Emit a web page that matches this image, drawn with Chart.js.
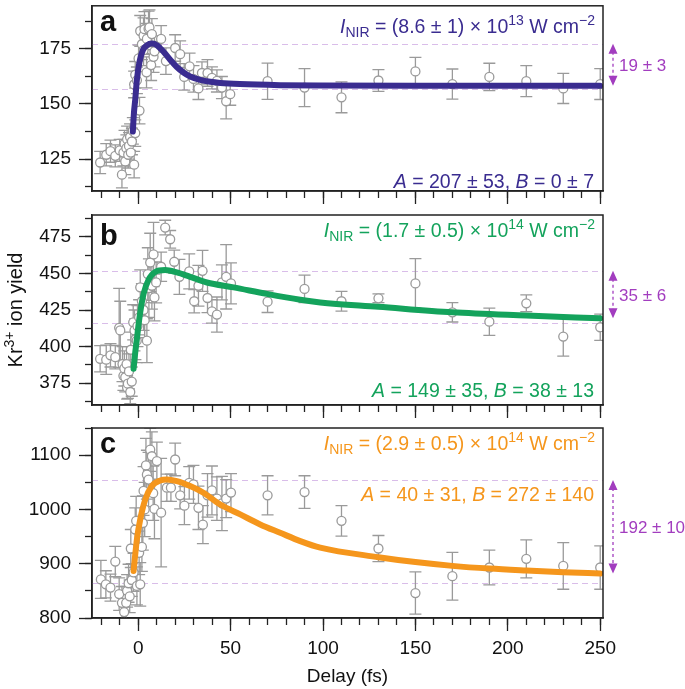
<!DOCTYPE html>
<html>
<head>
<meta charset="utf-8">
<script src="https://cdn.jsdelivr.net/npm/chart.js@4.4.1/dist/chart.umd.min.js"></script>
<style>
  html, body { margin: 0; padding: 0; background: #fff; }
  #wrap { position: relative; width: 685px; height: 689px; overflow: hidden; }
  #wrap canvas { position: absolute; left: 0; }
</style>
</head>
<body>
<div id="wrap">
  <canvas id="pa" width="685" height="210" style="top:0px"></canvas>
  <canvas id="pb" width="685" height="217" style="top:203px"></canvas>
  <canvas id="pc" width="685" height="269" style="top:420px"></canvas>
</div>
<script>
const FAMILY = '"Liberation Sans", Arial, Helvetica, sans-serif';
const GRAY = "#9a9a9a";
const PURPLE = "#a23dbf";
const X_MIN = -25, X_MAX = 251.5;

// panel a
const aDelay = [-20.6,-17.3,-15,-12.4,-10,-8.8,-8,-7.4,-7,-6.4,-6,-5.4,-5,-4.4,-4,-3.4,-2.9,-2.2,-1.6,-2.2,-1.6,-0.7,0.7,0.2,1.1,2,2.9,3.4,2.9,4.7,4.5,5.6,6.1,7.4,7,8.3,8.8,12.4,15,20,22.7,24.9,27.8,29.9,32.6,34.5,37.5,39.9,42.6,45.3,47.6,49.8,70,90,110,130,150,170,190,210,230,250];
const aYield = [123.5,127,128.6,126.5,129,118,128,132,124,130,134,127,131,135,128,133,137.8,122.5,136.8,158.8,163.2,160.7,147,170.6,183,177,180.9,183.8,174.3,179.4,164.3,184,184.6,181.6,167.6,171.3,173.8,179.4,169.4,175.3,172.5,162.2,167,161.3,157,164,164,161.8,160.4,157.4,151.2,154.4,160.3,157.4,153,160.6,164.7,159,162.2,160.3,157,159];
const aErr = [5,5,5,5,5,6,6,6,6,6,6,6,6,6,6,6,6,6,6,6,6,6,6,6,7,7,8,8,7,7,7,8,8,7,7,7,7,6,6,6,6,6,6,6,5,5,6,5,5,5,8,5,8.2,8.6,7,4.9,6.4,6.8,6.2,7,6.8,7];
const aFitDelay = [-2.9,-2.3,-1.6,-0.7,0.7,2.5,4.7,7.4,10.1,13.7,17.3,20.9,24.5,28.1,33.5,39,44.4,55,76.8,98.5,150,200,250];
const aFitYield = [137.5,146,152,161,169,174.3,176.5,177.3,176.6,173.6,170,166.7,164.2,162.4,160.9,160,159.5,159,158.5,158.3,158.2,158.2,158.2];
const aLevels = [177.2, 156.8];
const aArrow = [177.2, 158.2];

// panel b
const bDelay = [-20.6,-17.3,-15,-12.4,-10.3,-9.7,-8.5,-8,-7.5,-7,-6.3,-6,-5.6,-5,-4.3,-4,-3.5,-2.7,-2,-1.5,-0.8,-0.4,0.5,1.1,2,2.9,3.5,4.7,5.2,5.8,6.5,7.4,8.3,8.8,9.7,12.4,14.6,17.3,19.5,22.3,27.6,30.3,32.6,34.8,37.5,39.9,42.6,45.3,47.6,50.2,70,90,110,130,150,170,190,210,230,250];
const bYield = [391.6,391,394,392.7,412.8,411,388,380,385,379,388,372,374.6,383,368.9,397.8,376,416.6,411,405,404,414,420,440.5,431,425,418,404,449.6,440,457.5,441.6,463,433.6,443.9,454.6,481.4,473.4,458,447.7,451.4,431,441.6,451.8,433.2,424,421.9,443.9,447.7,443.2,430.7,439.4,431,433,443.2,423.4,417,429.6,406.8,413.2];
const bErr = [9,10,8,8,27,20,12,10,12,10,12,8,10,12,8,12,10,12,14,14,15,14,12,12,12,14,12,15,18,20,20,16,22,16,14,10,5,6,8,12,12,8,14,14,10,8,12,12,22,14,7.4,9.4,6.8,3,17,6.6,9.3,5.7,13.4,9];
const bFitDelay = [-2.5,-1.6,-0.7,0.2,1.1,2.9,5.6,9.2,14.6,20.9,28.1,37.2,51.6,69.6,87.7,98.5,130,170,210,250];
const bFitYield = [384.8,396,405.3,415,423.4,436,445.7,451,452.3,450.7,447.7,443.8,440.5,436,432,430.2,427.2,423.4,421.2,419.3];
const bLevels = [451.9, 416.3];
const bArrow = [451.9, 419.3];

// panel c
const cDelay = [-20.2,-17.5,-15,-12.4,-10.3,-8.8,-7.6,-6.5,-6,-5.2,-4.6,-4,-3.5,-2.5,-1.6,-1.1,-0.7,0.5,1.1,2,2.5,2.9,3.5,4.2,4.7,5.6,6.5,7.4,8.1,8.8,10.1,12.4,15.5,17.7,20,22.7,25,27.6,29.9,32.6,35,37.5,39.9,42.6,45.3,47.6,50.2,70,90,110,130,150,170,190,210,230,250];
const cYield = [871,862,856,904,844,828,811,828,850,864,840,928,870,884,963,979,859,920,862,931,975,1034,1000,1081,1064,1055,1110,1098,1030,1001,1089,994,1040,1040,1092,1026,1007,1049,1046,1003,972,1026,1035,1020,1011,1020,1031,1026,1032,979,928,846,877,893,909,896,893];
const cErr = [35,25,25,28,30,30,25,30,30,35,30,35,30,35,40,45,35,40,40,45,50,45,50,50,45,50,40,45,50,55,35,100,25,25,30,25,35,30,35,40,35,40,45,40,50,35,35,36,30,28,24,39,44,32,35,43,40];
const cFitDelay = [-2.5,-0.7,1.1,3.8,7.4,11.9,15.5,20.9,28.1,35.3,44.4,55.2,66,76.8,87.7,98.5,130,150,170,190,210,230,250];
const cFitYield = [886.6,944.9,981.6,1018,1043,1053.3,1055,1052,1043,1030.7,1009,990.8,972.4,957,941.7,929.6,912,903,896,891,887.5,884.5,882];
const cLevels = [1054, 865];
const cArrow = [1054, 882];

// draws text made of normal / italic / sub / sup pieces, right aligned
function richText(ctx, parts, xRight, yBase, size, small) {
  const fontFor = (k) => (k === "i" ? "italic " : "") + (k === "sub" || k === "sup" ? small : size) + "px " + FAMILY;
  let w = 0;
  parts.forEach(([t, k]) => { ctx.font = fontFor(k); w += ctx.measureText(t).width; });
  let x = xRight - w;
  ctx.textAlign = "left";
  ctx.textBaseline = "alphabetic";
  parts.forEach(([t, k]) => {
    ctx.font = fontFor(k);
    const dy = k === "sub" ? 4 : k === "sup" ? -8 : 0;
    ctx.fillText(t, x, yBase + dy);
    x += ctx.measureText(t).width;
  });
  return w;
}

function makePanel(id, o) {
  const decor = {
    id: "decor",
    beforeDatasetsDraw(chart) {
      const { ctx, chartArea: ca, scales: { x, y } } = chart;
      ctx.save();
      ctx.beginPath();
      ctx.rect(ca.left, ca.top, ca.right - ca.left, ca.bottom - ca.top);
      ctx.clip();
      // dashed guide levels
      ctx.strokeStyle = "#d9bde9";
      ctx.lineWidth = 1.2;
      ctx.setLineDash([6, 4]);
      o.levels.forEach((v) => {
        const py = Math.round(y.getPixelForValue(v)) + 0.5;
        ctx.beginPath();
        ctx.moveTo(ca.left, py);
        ctx.lineTo(ca.right, py);
        ctx.stroke();
      });
      ctx.setLineDash([]);
      // error bars
      ctx.strokeStyle = GRAY;
      ctx.lineWidth = 1.3;
      o.x.forEach((d, i) => {
        const px = x.getPixelForValue(d);
        const y1 = y.getPixelForValue(o.y[i] + o.err[i]);
        const y2 = y.getPixelForValue(o.y[i] - o.err[i]);
        ctx.beginPath();
        ctx.moveTo(px, y1); ctx.lineTo(px, y2);
        ctx.moveTo(px - 6, y1); ctx.lineTo(px + 6, y1);
        ctx.moveTo(px - 6, y2); ctx.lineTo(px + 6, y2);
        ctx.stroke();
      });
      ctx.restore();
    },
    afterDraw(chart) {
      const { ctx, chartArea: ca, scales: { y } } = chart;
      ctx.save();
      // frame
      ctx.strokeStyle = "#222";
      ctx.lineWidth = 1.5;
      ctx.strokeRect(ca.left, ca.top, ca.right - ca.left, ca.bottom - ca.top);
      // panel letter
      ctx.fillStyle = "#111";
      ctx.font = "bold 29px " + FAMILY;
      ctx.textAlign = "left";
      ctx.textBaseline = "alphabetic";
      ctx.fillText(o.letter, ca.left + 8, ca.top + o.letterY);
      // annotations
      ctx.fillStyle = o.color;
      richText(ctx, [["I", "i"], ["NIR", "sub"], [" = (" + o.intensity + ") \u00d7 10", ""], [o.power, "sup"], [" W cm", ""], ["\u22122", "sup"]],
        ca.right - 8, ca.top + o.intensityY, 19.5, 14);
      richText(ctx, [["A", "i"], [" = " + o.A + ", ", ""], ["B", "i"], [" = " + o.B, ""]],
        ca.right - 9, ca.top + o.paramsY, 19.5, 14);
      // amplitude arrow
      const ax = ca.right + 10;
      const yt = y.getPixelForValue(o.arrow[0]);
      const yb = y.getPixelForValue(o.arrow[1]);
      ctx.strokeStyle = PURPLE;
      ctx.fillStyle = PURPLE;
      ctx.lineWidth = 1.3;
      ctx.setLineDash([3, 3]);
      ctx.beginPath();
      ctx.moveTo(ax, yt + 8); ctx.lineTo(ax, yb - 8);
      ctx.stroke();
      ctx.setLineDash([]);
      ctx.beginPath();
      ctx.moveTo(ax, yt); ctx.lineTo(ax - 4.5, yt + 10); ctx.lineTo(ax + 4.5, yt + 10); ctx.closePath();
      ctx.moveTo(ax, yb); ctx.lineTo(ax - 4.5, yb - 10); ctx.lineTo(ax + 4.5, yb - 10); ctx.closePath();
      ctx.fill();
      ctx.font = "17px " + FAMILY;
      ctx.textBaseline = "middle";
      ctx.textAlign = "left";
      ctx.fillText(o.delta, ax + 6, (yt + yb) / 2 + 2);
      // shared y title, drawn once in the middle panel
      if (o.yTitle) {
        ctx.translate(22, (ca.top + ca.bottom) / 2);
        ctx.rotate(-Math.PI / 2);
        ctx.fillStyle = "#111";
        const parts = [["Kr", 20], ["3+", 14], [" ion yield", 20]];
        let w = 0;
        parts.forEach(([t, s]) => { ctx.font = s + "px " + FAMILY; w += ctx.measureText(t).width; });
        let tx = -w / 2;
        ctx.textBaseline = "alphabetic";
        parts.forEach(([t, s]) => {
          ctx.font = s + "px " + FAMILY;
          ctx.fillText(t, tx, s === 14 ? -8 : 0);
          tx += ctx.measureText(t).width;
        });
      }
      ctx.restore();
    }
  };

  const zeroPad = (s) => { s.paddingLeft = 0; s.paddingRight = 0; s.paddingTop = 0; s.paddingBottom = 0; };
  const tickFont = { family: FAMILY, size: 19 };
  const plain = (v) => String(v);

  return new Chart(document.getElementById(id), {
    type: "scatter",
    data: {
      datasets: [
        {
          type: "line",
          data: o.fitX.map((d, i) => ({ x: d, y: o.fitY[i] })),
          borderColor: o.color,
          borderWidth: 6,
          borderCapStyle: "round",
          pointRadius: 0,
          showLine: true,
          fill: false,
          cubicInterpolationMode: "monotone",
          order: 0
        },
        {
          data: o.x.map((d, i) => ({ x: d, y: o.y[i] })),
          pointRadius: 4.5,
          pointBackgroundColor: "#fff",
          pointBorderColor: GRAY,
          pointBorderWidth: 1.3,
          order: 1
        }
      ]
    },
    options: {
      responsive: false,
      animation: false,
      events: [],
      layout: { padding: { top: o.padTop, right: 82, left: 0, bottom: 0 } },
      plugins: { legend: { display: false }, tooltip: { enabled: false } },
      scales: {
        x: {
          type: "linear", position: "bottom", weight: 1, min: X_MIN, max: X_MAX,
          ticks: { stepSize: 50, includeBounds: false, display: o.xLabels, font: tickFont, color: "#111", padding: 6, maxRotation: 0, callback: plain },
          grid: { drawOnChartArea: false, tickLength: 13, tickColor: "#222", tickWidth: 1.3 },
          border: { color: "#222", width: 1.5 },
          title: { display: o.xLabels, text: "Delay (fs)", font: { family: FAMILY, size: 19 }, color: "#111", padding: { top: 0, bottom: 1 } },
          afterFit: (s) => { s.height = o.xHeight; zeroPad(s); }
        },
        xm: {
          type: "linear", position: "bottom", weight: 0, min: X_MIN, max: X_MAX,
          ticks: { stepSize: 10, includeBounds: false, display: false },
          grid: { drawOnChartArea: false, tickLength: 7, tickColor: "#222", tickWidth: 1.3 },
          border: { display: false },
          afterFit: (s) => { s.height = 0; zeroPad(s); }
        },
        y: {
          type: "linear", position: "left", weight: 1, min: o.yMin, max: o.yMax,
          ticks: { stepSize: o.yStep, includeBounds: false, font: tickFont, color: "#111", padding: 8, callback: plain },
          grid: { drawOnChartArea: false, tickLength: 13, tickColor: "#222", tickWidth: 1.3 },
          border: { color: "#222", width: 1.5 },
          afterFit: (s) => { s.width = 92; zeroPad(s); }
        },
        ym: {
          type: "linear", position: "left", weight: 0, min: o.yMin, max: o.yMax,
          ticks: { stepSize: o.yStep / 2, includeBounds: false, display: false },
          grid: { drawOnChartArea: false, tickLength: 7, tickColor: "#222", tickWidth: 1.3 },
          border: { display: false },
          afterFit: (s) => { s.width = 0; zeroPad(s); }
        }
      }
    },
    plugins: [decor]
  });
}

makePanel("pa", {
  x: aDelay, y: aYield, err: aErr, fitX: aFitDelay, fitY: aFitYield, levels: aLevels, arrow: aArrow,
  color: "#3a2c90", letter: "a", intensity: "8.6 \u00b1 1", power: "13", A: "207 \u00b1 53", B: "0 \u00b1 7", delta: "19 \u00b1 3",
  yMin: 110.6, yMax: 194.4, yStep: 25, padTop: 1, xHeight: 19, xLabels: false,
  letterY: 25, intensityY: 27, paramsY: 182
});
makePanel("pb", {
  x: bDelay, y: bYield, err: bErr, fitX: bFitDelay, fitY: bFitYield, levels: bLevels, arrow: bArrow,
  color: "#14a35c", letter: "b", intensity: "1.7 \u00b1 0.5", power: "14", A: "149 \u00b1 35", B: "38 \u00b1 13", delta: "35 \u00b1 6",
  yMin: 360, yMax: 490, yStep: 25, padTop: 12, xHeight: 15, xLabels: false, yTitle: true,
  letterY: 30, intensityY: 22, paramsY: 182
});
makePanel("pc", {
  x: cDelay, y: cYield, err: cErr, fitX: cFitDelay, fitY: cFitYield, levels: cLevels, arrow: cArrow,
  color: "#f5961c", letter: "c", intensity: "2.9 \u00b1 0.5", power: "14", A: "40 \u00b1 31", B: "272 \u00b1 140", delta: "192 \u00b1 10",
  yMin: 800, yMax: 1150, yStep: 100, padTop: 8, xHeight: 71, xLabels: true,
  letterY: 25, intensityY: 22, paramsY: 73
});
</script>
</body>
</html>
